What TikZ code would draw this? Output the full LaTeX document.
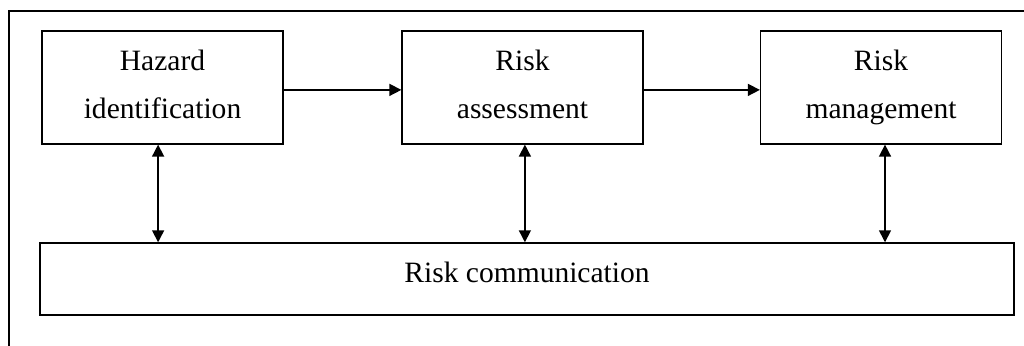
\documentclass[tikz,border=0pt]{standalone}
\usepackage{fontspec}
\setmainfont{Liberation Serif}
\usetikzlibrary{arrows.meta,positioning,calc}

\begin{document}
\begin{tikzpicture}[x=0.025cm,y=0.025cm,
    stagebox/.style={draw,line width=1pt,minimum width=6.02cm,minimum height=2.82cm,
      align=center,inner sep=0pt,font=\fontsize{21}{34.5}\selectfont,
      execute at end node={\vphantom{g}}},
    link/.style={line width=1.1pt,-{Triangle[length=0.3cm,width=0.3cm]}},
    twoway/.style={line width=1.1pt,{Triangle[length=0.3cm,width=0.3cm]}-{Triangle[length=0.3cm,width=0.3cm]}}]
  \useasboundingbox (0,0) rectangle (1024,-346);
  % outer frame (top and left only)
  \draw[line width=1pt] (1024,-11) -- (9,-11) -- (9,-346);
  % the three stages
  \node[stagebox] (haz) at (162.5,-87.5) {Hazard\\identification};
  \node[stagebox] (assess) at (522.5,-87.5) {Risk\\assessment};
  \node[stagebox] (manage) at (881,-87.5) {Risk\\management};
  \node[draw,line width=1pt,minimum width=24.35cm,minimum height=1.8cm,inner sep=0pt,
    text depth=0.35cm,font=\fontsize{21}{25}\selectfont] (comm) at (527,-279) {Risk communication};
  % flow
  \draw[link] ([yshift=-0.06cm]haz.east) -- ([yshift=-0.06cm]assess.west);
  \draw[link] ([yshift=-0.06cm]assess.east) -- ([yshift=-0.06cm]manage.west);
  % communication
  \draw[twoway] ([xshift=-0.11cm]haz.south) -- ([xshift=-0.11cm]haz.south |- comm.north);
  \draw[twoway] ([xshift=0.06cm]assess.south) -- ([xshift=0.06cm]assess.south |- comm.north);
  \draw[twoway] ([xshift=0.1cm]manage.south) -- ([xshift=0.1cm]manage.south |- comm.north);
\end{tikzpicture}
\end{document}
